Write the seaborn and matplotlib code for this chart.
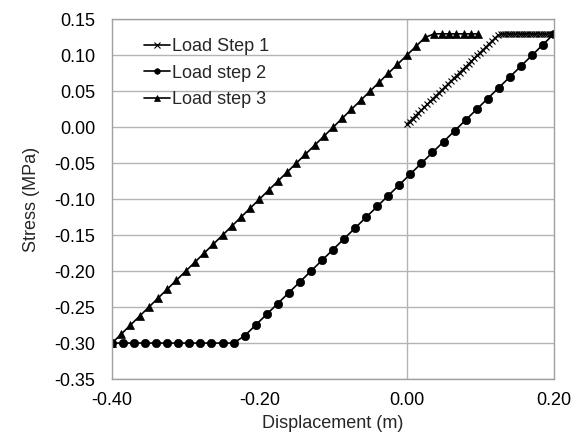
import matplotlib
matplotlib.use("Agg")
import matplotlib.pyplot as plt
import numpy as np
import pandas as pd
import seaborn as sns

# Load step 1 (x markers)
step1_x = [0.000, 0.004, 0.008, 0.012, 0.016, 0.020, 0.024, 0.028, 0.032, 0.036,
           0.040, 0.044, 0.048, 0.052, 0.056, 0.060, 0.064, 0.068, 0.072, 0.076,
           0.080, 0.084, 0.088, 0.092, 0.096, 0.100, 0.104, 0.108, 0.112, 0.116,
           0.120, 0.124, 0.128,
           0.131, 0.134, 0.137, 0.140, 0.143, 0.146, 0.149, 0.152, 0.155, 0.158,
           0.161, 0.164, 0.167, 0.170, 0.173, 0.176, 0.179, 0.182, 0.185, 0.188,
           0.191, 0.194, 0.197, 0.200]
step1_y = [0.004, 0.008, 0.012, 0.016, 0.020, 0.024, 0.028, 0.032, 0.036, 0.040,
           0.044, 0.048, 0.052, 0.056, 0.060, 0.064, 0.068, 0.072, 0.076, 0.080,
           0.084, 0.088, 0.092, 0.096, 0.100, 0.104, 0.108, 0.112, 0.116, 0.120,
           0.124, 0.128, 0.130,
           0.130, 0.130, 0.130, 0.130, 0.130, 0.130, 0.130, 0.130, 0.130, 0.130,
           0.130, 0.130, 0.130, 0.130, 0.130, 0.130, 0.130, 0.130, 0.130, 0.130,
           0.130, 0.130, 0.130, 0.130]

# Load step 2 (circles)
step2_x = [-0.400, -0.385, -0.370, -0.355, -0.340, -0.325, -0.310, -0.295, -0.280,
           -0.265, -0.250, -0.235,
           -0.220, -0.205, -0.190, -0.175, -0.160, -0.145, -0.130, -0.115, -0.100,
           -0.085, -0.070, -0.055, -0.040, -0.025, -0.010, 0.005, 0.020, 0.035,
           0.050, 0.065, 0.080, 0.095, 0.110, 0.125, 0.140, 0.155, 0.170, 0.185,
           0.200]
step2_y = [-0.300, -0.300, -0.300, -0.300, -0.300, -0.300, -0.300, -0.300, -0.300,
           -0.300, -0.300, -0.300,
           -0.290, -0.275, -0.260, -0.245, -0.230, -0.215, -0.200, -0.185, -0.170,
           -0.155, -0.140, -0.125, -0.110, -0.095, -0.080, -0.065, -0.050, -0.035,
           -0.020, -0.005, 0.010, 0.025, 0.040, 0.055, 0.070, 0.085, 0.100, 0.115,
           0.130]

# Load step 3 (triangles)
step3_x = [-0.4000, -0.3875, -0.3750, -0.3625, -0.3500, -0.3375, -0.3250, -0.3125,
           -0.3000, -0.2875, -0.2750, -0.2625, -0.2500, -0.2375, -0.2250, -0.2125,
           -0.2000, -0.1875, -0.1750, -0.1625, -0.1500, -0.1375, -0.1250, -0.1125,
           -0.1000, -0.0875, -0.0750, -0.0625, -0.0500, -0.0375, -0.0250, -0.0125,
           0.0000, 0.0125, 0.0250,
           0.0375, 0.0475, 0.0575, 0.0675, 0.0775, 0.0875, 0.0975]
step3_y = [-0.3000, -0.2875, -0.2750, -0.2625, -0.2500, -0.2375, -0.2250, -0.2125,
           -0.2000, -0.1875, -0.1750, -0.1625, -0.1500, -0.1375, -0.1250, -0.1125,
           -0.1000, -0.0875, -0.0750, -0.0625, -0.0500, -0.0375, -0.0250, -0.0125,
           0.0000, 0.0125, 0.0250, 0.0375, 0.0500, 0.0625, 0.0750, 0.0875,
           0.1000, 0.1125, 0.1250,
           0.1300, 0.1300, 0.1300, 0.1300, 0.1300, 0.1300, 0.1300]

labels = ["Load Step 1", "Load step 2", "Load step 3"]
x_ticks = [-0.40, -0.20, 0.00, 0.20]
y_ticks = [0.15, 0.10, 0.05, 0.00, -0.05, -0.10, -0.15, -0.20, -0.25, -0.30, -0.35]

sns.set_style("white")
plt.rcParams['font.family'] = ['Liberation Sans', 'DejaVu Sans']

fig, ax = plt.subplots(figsize=(5.85, 4.42), dpi=100)
fig.subplots_adjust(left=0.1915, right=0.947, top=0.956, bottom=0.1425)

# horizontal gridlines
for yv in y_ticks:
    ax.axhline(yv, color='#b4b4b4', lw=1.0, zorder=0)
ax.axvline(0.0, color='#b4b4b4', lw=1.0, zorder=0)

series = [(step1_x, step1_y, 'x', 5.0), (step2_x, step2_y, 'o', 6.0), (step3_x, step3_y, '^', 6.0)]
for (xs, ys, mk, ms), lab in zip(series, labels):
    df = pd.DataFrame({"x": xs, "y": ys})
    sns.lineplot(data=df, x="x", y="y", ax=ax, color='black', lw=1.2, marker=mk,
                 markersize=ms, markeredgecolor='black', markeredgewidth=0.8 if mk == 'x' else 0.5,
                 estimator=None, sort=False, label=lab)

ax.set_xlim(-0.40, 0.20)
ax.set_ylim(-0.35, 0.15)
ax.set_xticks(x_ticks)
ax.set_yticks(y_ticks)
ax.set_xticklabels([f"{v:.2f}" for v in x_ticks])
ax.set_yticklabels([f"{v:.2f}" for v in y_ticks])
ax.tick_params(axis='both', length=0, labelsize=13, colors='black')
ax.tick_params(axis='y', pad=12)
ax.tick_params(axis='x', pad=9)
for sp in ax.spines.values():
    sp.set_color('#a0a0a0')
    sp.set_linewidth(1.0)

ax.set_xlabel("Displacement (m)", fontsize=13, labelpad=5)
ax.set_ylabel("Stress (MPa)", fontsize=13, labelpad=10)

leg = ax.legend(loc='upper left', bbox_to_anchor=(0.055, 0.968), frameon=False, fontsize=13,
                handlelength=1.45, handletextpad=0.15, labelspacing=0.52, borderaxespad=0)
for h in leg.legend_handles:
    h.set_markersize(4)

fig.savefig("out.png", dpi=100)
